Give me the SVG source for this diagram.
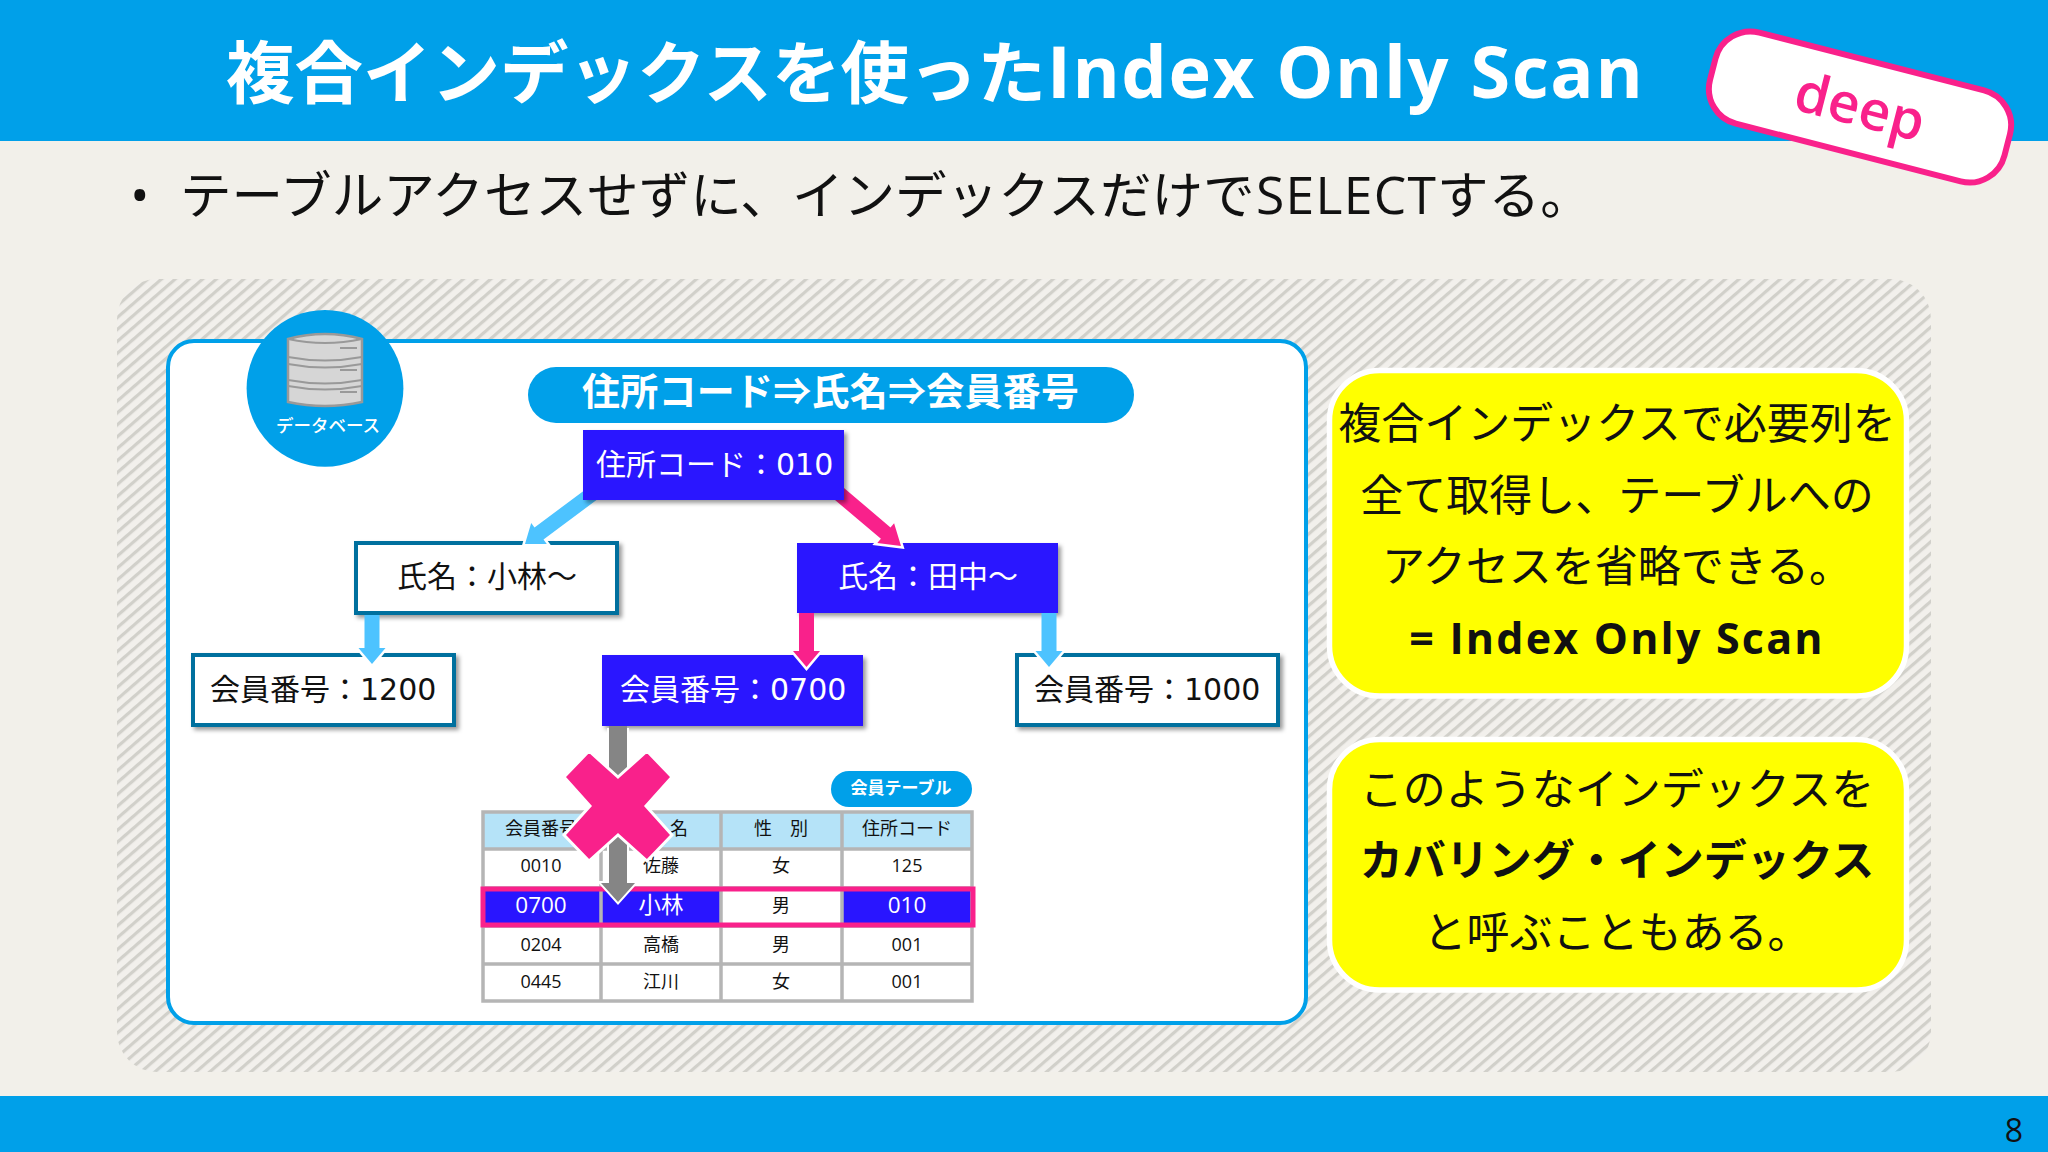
<svg xmlns="http://www.w3.org/2000/svg" width="2048" height="1152" viewBox="0 0 2048 1152">
<style>
text{font-family:"Open Sans","Noto Sans CJK JP",sans-serif;fill:#111}
.c{text-anchor:middle}
.b{font-weight:700}
.w{fill:#fff}
.node{fill:#fff;stroke:#046f9e;stroke-width:4;filter:url(#sh)}
.on{fill:#2915ff;stroke:none;filter:url(#sh)}
text.nt{font-size:30px;font-family:"DejaVu Sans","Noto Sans CJK JP",sans-serif}
.yl{fill:#ffff00;stroke:#fff;stroke-width:5.5}
.yt{font-size:43px;text-anchor:middle}
.halo{fill:none;stroke:#fff;stroke-width:5;stroke-linejoin:miter}
.blue{fill:#4dc3ff}
.pink{fill:#f9218b}
.gray{fill:#858585}
.th{fill:#b5e3f8}
.grid{fill:none;stroke:#b5b5b5;stroke-width:3.5}
.td{font-size:18px;text-anchor:middle}
.hl{font-size:22.5px;text-anchor:middle;fill:#fff}
.db{fill:#d6d6d6;stroke:#999;stroke-width:2.5}
.dash{stroke:#999;stroke-width:2;fill:none}
</style>
<defs>
<filter id="sh" x="-10%" y="-10%" width="120%" height="125%"><feDropShadow dx="3" dy="3" stdDeviation="2" flood-color="#000" flood-opacity="0.4"/></filter>
<pattern id="hatch" width="9" height="9" patternUnits="userSpaceOnUse" patternTransform="rotate(-41)">
<rect width="9" height="9" fill="#f2f0ec"/><rect width="9" height="3.2" fill="#d1d0ca"/>
</pattern>
</defs>
<rect width="2048" height="1152" fill="#f2f0ea"/>
<rect width="2048" height="141" fill="#00a0e9"/>
<rect y="1096" width="2048" height="56" fill="#00a0e9"/>
<text class="b w" x="226" y="98" font-size="68.5">複合インデックスを使った<tspan x="1047" font-size="72" letter-spacing="1.6">Index Only Scan</tspan></text>
<g id="deep" transform="translate(1860 107) rotate(14.4)">
<rect x="-152" y="-47" width="304" height="94" rx="36" fill="#fff" stroke="#f9218b" stroke-width="6"/>
<text class="c" y="19" font-size="55" font-weight="600" style="fill:#f9218b">deep</text>
</g>
<text x="130" y="214" font-size="52">•</text>
<text x="180" y="214" font-size="51.6">テーブルアクセスせずに、インデックスだけで<tspan x="1256" letter-spacing="1.3">SELECT</tspan><tspan x="1437">する。</tspan></text>
<rect x="117" y="279" width="1814" height="793" rx="40" fill="url(#hatch)"/>
<rect id="panel" x="168" y="341" width="1138" height="682" rx="26" fill="#fff" stroke="#00a0e9" stroke-width="4"/>
<g id="database">
<circle cx="325" cy="388.3" r="78.4" fill="#00a0e9"/>
<path class="db" d="M288 339Q325 329 362 339V402Q325 410 288 402Z"/>
<path class="dash" d="M288 339Q325 347 362 339M288 357Q325 364 362 357M288 364Q325 371 362 364M288 380Q325 387 362 380M288 386Q325 393 362 386M340 348h17M340 370h17M340 392h17"/>
<text class="c w" x="328" y="432" font-size="17.5" font-weight="500">データベース</text>
</g>
<g id="title-pill">
<rect x="528" y="367" width="606" height="56" rx="28" fill="#00a0e9"/>
<text class="b w" x="582" y="405" font-size="38" textLength="497" lengthAdjust="spacing">住所コード⇒氏名⇒会員番号</text>
</g>
<g id="n-kobayashi"><rect class="node" x="356" y="543" width="261" height="70"/><text class="nt" x="397" y="587">氏名：小林～</text></g>
<g id="n-tanaka"><rect class="on" x="797" y="543" width="261" height="70"/><text class="w nt" x="838" y="587">氏名：田中～</text></g>
<g id="n-1200"><rect class="node" x="193" y="655" width="261" height="70"/><text class="nt" x="210" y="700">会員番号：1200</text></g>
<g id="n-0700"><rect class="on" x="602" y="655" width="261" height="71"/><text class="w nt" x="620" y="700">会員番号：0700</text></g>
<g id="n-1000"><rect class="node" x="1017" y="655" width="261" height="70"/><text class="nt" x="1034" y="700">会員番号：1000</text></g>
<g id="member-table">
<rect class="th" x="482" y="811" width="491" height="37"/>
<rect x="482" y="848" width="491" height="154" fill="#fff"/>
<rect x="482" y="888" width="119" height="38" fill="#2915ff"/><rect x="601" y="888" width="120" height="38" fill="#2915ff"/><rect x="842" y="888" width="131" height="38" fill="#2915ff"/>
<path class="grid" d="M483 812H972V1001H483zM601 812V1001M721 812V1001M842 812V1001M483 849H972M483 888H972M483 926H972M483 964H972"/>
<rect x="483" y="889" width="490" height="36" fill="none" stroke="#f9218b" stroke-width="5"/>
<text class="td" x="541" y="835" font-size="17">会員番号</text><text class="td" x="661" y="835">氏　名</text><text class="td" x="781" y="835">性　別</text><text class="td" x="907" y="835">住所コード</text>
<text class="td" x="541" y="872">0010</text><text class="td" x="661" y="872">佐藤</text><text class="td" x="781" y="872">女</text><text class="td" x="907" y="872">125</text>
<text class="hl" x="541" y="913">0700</text><text class="hl" x="661" y="913">小林</text><text class="td" x="781" y="912">男</text><text class="hl" x="907" y="913">010</text>
<text class="td" x="541" y="951">0204</text><text class="td" x="661" y="951">高橋</text><text class="td" x="781" y="951">男</text><text class="td" x="907" y="951">001</text>
<text class="td" x="541" y="988">0445</text><text class="td" x="661" y="988">江川</text><text class="td" x="781" y="988">女</text><text class="td" x="907" y="988">001</text>
</g>
<g id="table-label">
<rect x="831" y="771" width="141" height="36" rx="18" fill="#00a0e9"/>
<text class="c b w" x="901" y="794" font-size="17">会員テーブル</text>
</g>
<g id="connectors">
<path class="halo" d="M534.5 527.5L531.2 523.1L525 544L546.8 543.9L543.5 539.5"/>
<polygon class="blue" points="596.5,500 543.5,539.5 546.8,543.9 525,544 531.2,523.1 534.5,527.5 587.5,488"/>
<path class="halo" d="M880.9 538.8L877.3 543L901 546L894.1 523.2L890.5 527.4"/>
<polygon class="pink" points="844,488 890.5,527.4 894.1,523.2 901,546 877.3,543 880.9,538.8 835,500"/>
<path class="halo" d="M379.5 648H385.5L372 664L358.5 648H364.5"/>
<polygon class="blue" points="364.5,615 379.5,615 379.5,648 385.5,648 372,664 358.5,648 364.5,648"/>
<path class="halo" d="M814 651H820L806.5 667L793 651H799"/>
<polygon class="pink" points="799,613 814,613 814,651 820,651 806.5,667 793,651 799,651"/>
<path class="halo" d="M1056.5 651H1062.5L1049 667L1035.5 651H1041.5"/>
<polygon class="blue" points="1041.5,613 1056.5,613 1056.5,651 1062.5,651 1049,667 1035.5,651 1041.5,651"/>
<path class="halo" d="M627 728V883H635L618 902L601 883H609V728" style="stroke-width:4"/>
<polygon class="gray" points="609,726 627,726 627,883 635,883 618,902 601,883 609,883"/>
</g>
<g id="n-root"><rect class="on" x="583" y="430" width="261" height="70"/><text class="w nt" x="596" y="475">住所コード：010</text></g>
<g id="deny-mark">
<polygon class="pink" stroke="#fff" stroke-width="3" points="618,777 647,751 672,777 646,806 672,835 647,861 618,835 589,861 564,835 590,806 564,777 589,751"/>
</g>
<g id="note-1">
<rect class="yl" x="1329.5" y="370.5" width="577" height="325.5" rx="50"/>
<text class="yt" x="1617" y="439">複合インデックスで必要列を</text>
<text class="yt" x="1617" y="511">全て取得し、テーブルへの</text>
<text class="yt" x="1617" y="582">アクセスを省略できる。</text>
<text class="yt b" x="1617" y="654" font-size="44" letter-spacing="2.2">= Index Only Scan</text>
</g>
<g id="note-2">
<rect class="yl" x="1329.5" y="739.5" width="577" height="250.5" rx="50"/>
<text class="yt" x="1617" y="805">このようなインデックスを</text>
<text class="yt b" x="1617" y="876">カバリング・インデックス</text>
<text class="yt" x="1617" y="948">と呼ぶこともある。</text>
</g>
<text x="2014" y="1142" font-size="32" text-anchor="middle">8</text>
</svg>
